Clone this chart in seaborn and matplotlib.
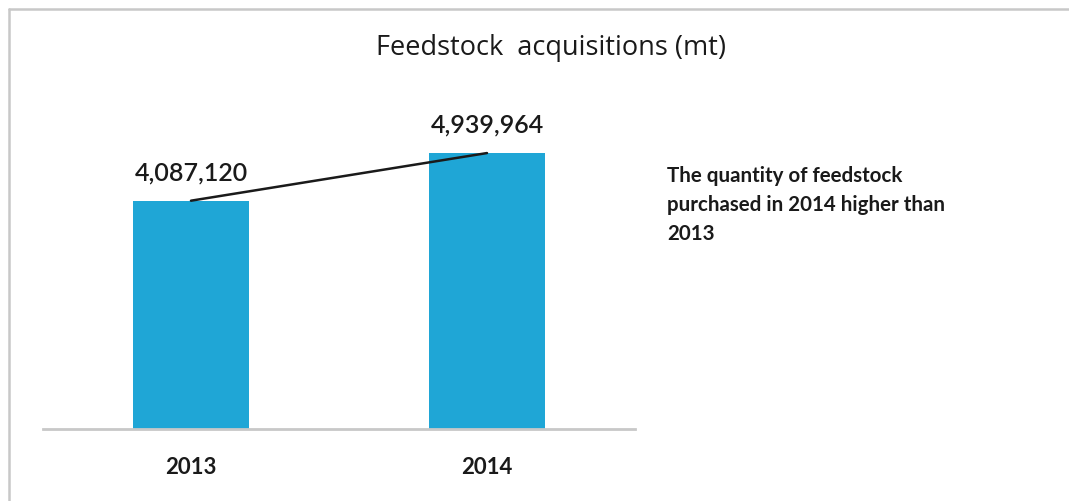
import matplotlib
matplotlib.use("Agg")
import matplotlib.pyplot as plt
import seaborn as sns
import pandas as pd
from matplotlib.lines import Line2D

# Feedstock purchased per year, metric tonnes
years = ["2013", "2014"]
acquisitions = [4087120, 4939964]

title = "Feedstock  acquisitions (mt)"
note = "The quantity of feedstock\npurchased in 2014 higher than\n2013"

bar_color = "#1fa6d6"

sns.set_theme(style="white")
plt.rcParams["font.family"] = ["Lato", "DejaVu Sans"]

df = pd.DataFrame({"year": years, "mt": acquisitions})

fig = plt.figure(figsize=(10.69, 5.01), dpi=100)
ax = fig.add_axes([0.0402, 0.1437, 0.5538, 0.669])

sns.barplot(data=df, x="year", y="mt", color=bar_color, saturation=1,
            width=0.39, ax=ax, edgecolor="none")

# trend line joining the bar tops
xs = ax.get_xticks()
ax.plot(xs, df["mt"], color="#1a1a1a", linewidth=1.8, zorder=3)

ax.bar_label(ax.containers[0], labels=[f"{v:,.0f}" for v in df["mt"]],
             padding=12, fontsize=18, color="#1a1a1a", fontweight="semibold")

ax.set_xlim(-0.5, 1.5)
ax.set_ylim(0, 6_000_000)
ax.set_xlabel("")
ax.set_ylabel("")
ax.set_yticks([])
ax.tick_params(axis="x", length=0, pad=20, labelsize=16)
for lbl in ax.get_xticklabels():
    lbl.set_fontweight("bold")
    lbl.set_color("#1a1a1a")

for side in ["top", "right", "left"]:
    ax.spines[side].set_visible(False)
ax.spines["bottom"].set_color("#c8c8c8")
ax.spines["bottom"].set_linewidth(2)

fig.text(551 / 1069, 1 - 48 / 501, title, ha="center", va="center",
         fontsize=19.5, color="#1a1a1a", family=["Open Sans", "DejaVu Sans"])

fig.text(667 / 1069, 1 - 166 / 501, note, ha="left", va="top",
         fontsize=14.8, fontweight="bold", color="#1a1a1a", linespacing=1.55)

# outer frame lines along the top and left edges
fig.add_artist(Line2D([9 / 1069, 1], [1 - 9 / 501, 1 - 9 / 501],
                      transform=fig.transFigure, color="#c8c8c8", linewidth=1.8))
fig.add_artist(Line2D([9 / 1069, 9 / 1069], [0, 1 - 9 / 501],
                      transform=fig.transFigure, color="#c8c8c8", linewidth=1.8))

fig.savefig("out.png", dpi=100, facecolor="white")
